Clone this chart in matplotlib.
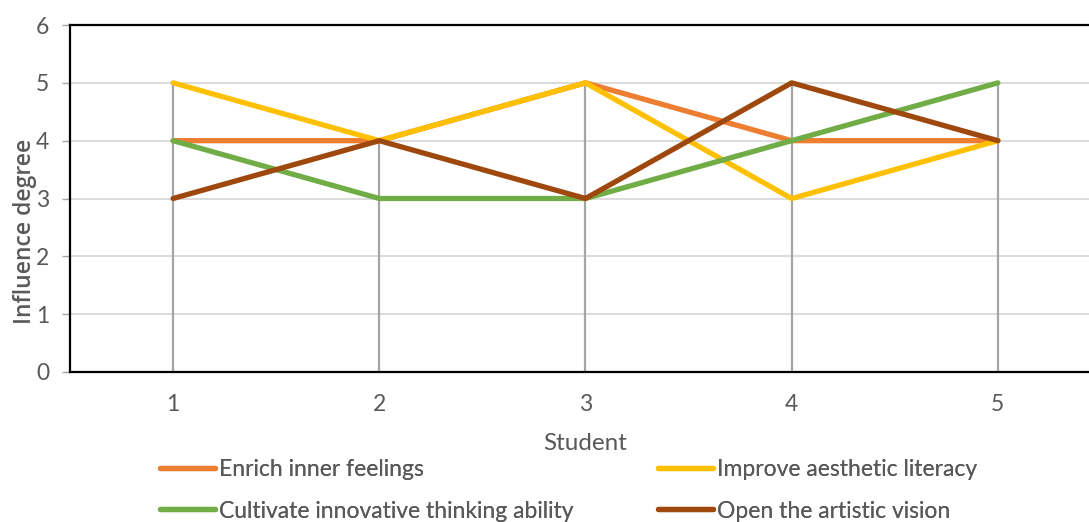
import numpy as np
import matplotlib
matplotlib.use("Agg")
import matplotlib.pyplot as plt

plt.rcParams['font.family'] = ['Lato', 'DejaVu Sans']

students = [1, 2, 3, 4, 5]
enrich = [4, 4, 5, 4, 4]
aesthetic = [5, 4, 5, 3, 4]
innovative = [4, 3, 3, 4, 5]
vision = [3, 4, 3, 5, 4]

names = ["Enrich inner feelings", "Improve aesthetic literacy",
         "Cultivate innovative thinking ability", "Open the artistic vision"]
colors = ["#ED7D31", "#FFC000", "#70AD47", "#9E480E"]
series = [enrich, aesthetic, innovative, vision]

W, H = 1089, 522
fig = plt.figure(figsize=(W / 100, H / 100), dpi=100)
# plot area: left 70px, bottom 372px, top 25px, right beyond the image
left, right, top, bottom = 70, 1101, 25, 372
ax = fig.add_axes([left / W, 1 - bottom / H, (right - left) / W, (bottom - top) / H])

ax.set_xlim(0.5, 5.5)
ax.set_ylim(0, 6)

# horizontal gridlines
for y in range(1, 6):
    ax.axhline(y, color="#D9D9D9", lw=1.3, zorder=1)

# drop lines from 0 to max value
tops = np.max(np.array(series), axis=0)
ax.vlines(students, 0, tops, color="#A5A5A5", lw=1.6, zorder=2)

lines = {}
for name, vals, c in zip(names, series, colors):
    ln, = ax.plot(students, vals, color=c, lw=3.8, solid_capstyle="round",
                  solid_joinstyle="round", zorder=3, label=name)
    lines[name] = ln

for s in ["top", "left", "bottom"]:
    ax.spines[s].set_color("black")
    ax.spines[s].set_linewidth(1.6)
ax.spines["right"].set_visible(False)

ax.set_yticks(range(0, 7))
ax.set_xticks(students)
ax.tick_params(axis="y", colors="#595959", labelsize=16.5, length=6, width=1,
               color="#A5A5A5", pad=9)
ax.tick_params(axis="x", colors="#595959", labelsize=16.5, length=0, pad=16)

ax.set_ylabel("Influence degree", color="#595959", fontsize=16.5,
              fontweight=600, family=["Open Sans", "DejaVu Sans"])
ax.yaxis.set_label_coords(-33 / (right - left), 0.406)
ax.set_xlabel("Student", color="#595959", fontsize=17.5, labelpad=13)

# legend entries placed one by one (handle left edge, text centre y)
spots = {names[0]: (160, 470), names[2]: (160, 511),
         names[1]: (658, 470), names[3]: (658, 511)}
for n, (px, py) in spots.items():
    lg = fig.legend([lines[n]], [n], loc="center left",
                    bbox_to_anchor=(px / W, 1 - py / H), frameon=False,
                    fontsize=16.5, labelcolor="#595959", handlelength=2.4,
                    handletextpad=0.17, borderaxespad=0, borderpad=0)
    fig.add_artist(lg)

fig.savefig("out.png", dpi=100)
